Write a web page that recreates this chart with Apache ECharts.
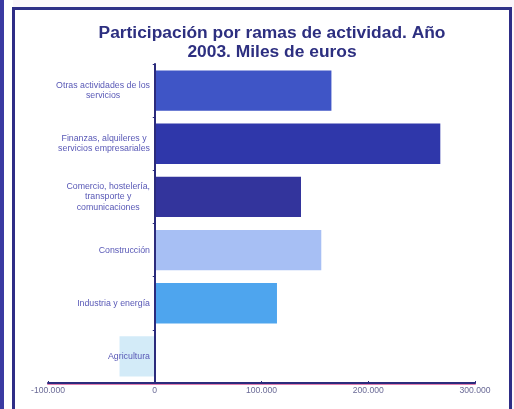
<!DOCTYPE html>
<html>
<head>
<meta charset="utf-8">
<script src="https://cdn.jsdelivr.net/npm/echarts@6/dist/echarts.min.js"></script>
<style>
html,body{margin:0;padding:0;background:#faf5fa;}
#chart{width:514px;height:409px;}
</style>
</head>
<body>
<div id="chart"></div>
<script>
// Categories, top to bottom
const categories = [
  'Otras actividades de los\nservicios',
  'Finanzas, alquileres y\nservicios empresariales',
  'Comercio, hostelería,\ntransporte y\ncomunicaciones',
  'Construcción',
  'Industria y energía',
  'Agricultura'
];
const values = [165500, 267500, 137000, 156000, 114500, -33000];
const barColors = ['#3f55c6', '#2f37aa', '#33349c', '#a7bff4', '#4ea5ee', '#d3ebf8'];
const xTicks = { min: -100000, max: 300000, interval: 100000 };

const chart = echarts.init(document.getElementById('chart'), null, {renderer: 'canvas'});
const fmt = v => {
  const s = Math.abs(v).toString().replace(/\B(?=(\d{3})+(?!\d))/g, '.');
  return (v < 0 ? '-' : '') + s;
};
chart.setOption({
  backgroundColor: '#faf5fa',
  animation: false,
  graphic: [
    {type: 'rect', z: -10, shape: {x: 0, y: 0, width: 4, height: 409}, style: {fill: '#3a3aa2'}},
    {type: 'rect', z: -10, shape: {x: 4, y: 0, width: 9, height: 409}, style: {fill: '#ffffff'}},
    {type: 'rect', z: -10, shape: {x: 13.5, y: 8.5, width: 497, height: 420}, style: {fill: '#ffffff', stroke: '#2e2d86', lineWidth: 3}}
  ],
  title: {
    text: 'Participación por ramas de actividad. Año\n2003. Miles de euros',
    left: 267, top: 19, textAlign: 'center',
    textStyle: {fontFamily: 'Liberation Sans', fontWeight: 'bold', fontSize: 17.4, color: '#2d2f80', lineHeight: 19}
  },
  grid: {left: 48, right: 39, top: 64, bottom: 26, containLabel: false, outerBoundsMode: 'none'},
  xAxis: {
    type: 'value', min: xTicks.min, max: xTicks.max, interval: xTicks.interval,
    splitLine: {show: false},
    axisLine: {show: true, lineStyle: {color: '#2b2b7c', width: 2, shadowColor: '#e080b0', shadowOffsetY: 1}},
    axisTick: {show: true, inside: true, length: 2, lineStyle: {color: '#2b2b7c'}},
    axisLabel: {formatter: fmt, fontFamily: 'Liberation Sans', fontSize: 8.6, color: '#6a6a96', margin: 3}
  },
  yAxis: {
    type: 'category', inverse: true, data: categories, z: 5,
    axisLine: {show: true, onZero: true, lineStyle: {color: '#2b2b7c', width: 2}},
    axisTick: {show: true, length: 2, lineStyle: {color: '#2b2b7c'}},
    axisLabel: {
      margin: -102,
      formatter: v => '{c|' + v + '}',
      rich: {c: {align: 'center', fontFamily: 'Liberation Sans', fontSize: 8.8, color: '#5858b6', lineHeight: 10.5}}
    }
  },
  series: [{
    type: 'bar',
    barCategoryGap: '24%',
    data: values.map((v, i) => ({value: v, itemStyle: {color: barColors[i]}}))
  }]
});
</script>
</body>
</html>
